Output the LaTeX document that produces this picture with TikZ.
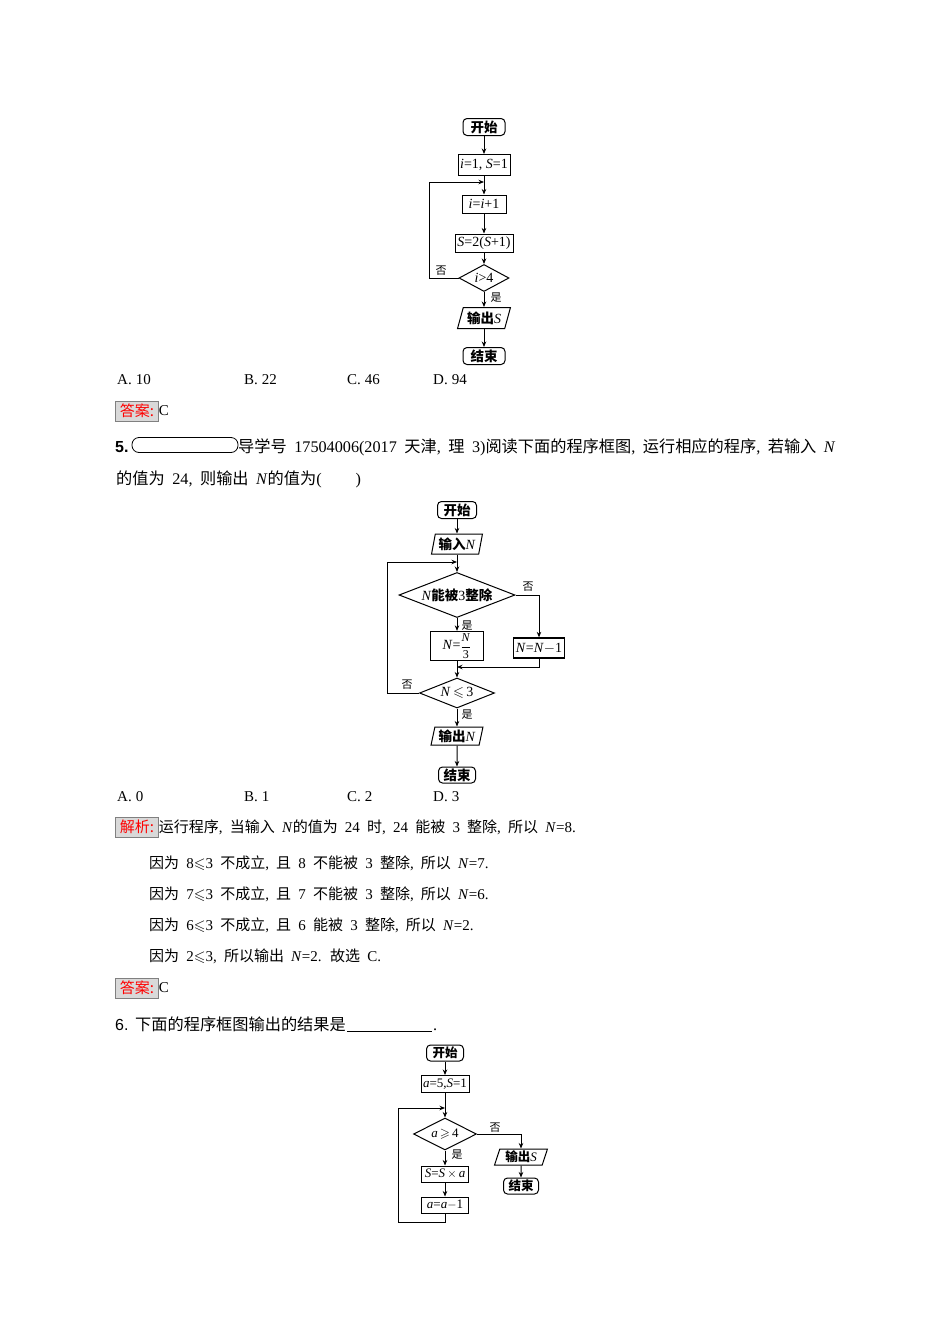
\documentclass[tikz,border=0pt]{standalone}
\usepackage{amsmath,amssymb}
\usepackage{fontspec}
\setmainfont{Liberation Serif}
\newfontfamily\cjk{Noto Sans CJK SC}
\newfontfamily\sfb{Liberation Sans}
\usetikzlibrary{shapes.geometric,arrows.meta}
\newcommand\zh[1]{{\cjk #1}}
\newcommand\zhb[1]{{\cjk\bfseries\fontsize{13.5}{15}\selectfont #1}}
\newcommand\zhc[1]{{\cjk\bfseries\fontsize{12.5}{14}\selectfont #1}}
\newcommand\vN{\textit{N}}
\newcommand\vS{\textit{S}}
\newcommand\bodyfont{\fontsize{15}{18}\selectfont\spaceskip 7.2pt\relax}
\newcommand\optfont{\fontsize{15}{18}\selectfont}
\newcommand\probfont{\fontsize{16.2}{19}\selectfont\spaceskip 7.5pt\relax}
\begin{document}
\begin{tikzpicture}[x=1pt,y=-1pt,
 fc/.style={draw, line width=1pt, inner sep=0pt, align=center, font=\fontsize{14}{16}\selectfont},
 fcs/.style={fc, font=\fontsize{13}{15}\selectfont},
 term/.style={rectangle, rounded corners=4pt},
 proc/.style={rectangle},
 dec/.style={diamond, shape aspect=2.5},
 io/.style 2 args={trapezium, trapezium left angle=#1, trapezium right angle=#2, trapezium stretches=true},
 arr/.style={line width=1pt, -{Stealth[length=5.5pt,width=4.5pt]}},
 lab/.style={font=\cjk\fontsize{11}{12}\selectfont, inner sep=0pt},
 body/.style={anchor=base west, inner sep=0pt, font=\bodyfont},
 opt/.style={anchor=base west, inner sep=0pt, font=\optfont},
 prob/.style={anchor=base west, inner sep=0pt, font=\probfont},
 numb/.style={anchor=base west, inner sep=0pt, font=\sfb\bfseries\fontsize{16}{18}\selectfont},
 tag/.style={draw=gray, fill=gray!30, text=red, inner sep=0pt, minimum width=43, minimum height=20, font=\cjk\fontsize{15}{18}\selectfont},
]
\fill[white] (0,0) rectangle (950,1344);
\useasboundingbox (0,0) rectangle (950,1344);

% ---------------- Flowchart 1 ----------------
\node[fc, term, minimum width=42, minimum height=17] (a1) at (484,127) {\zhb{开始}};
\node[fc, proc, minimum width=52, minimum height=21] (a2) at (484,165) {\textit{i}=1, \vS=1};
\node[fc, proc, minimum width=44, minimum height=18] (a3) at (484,204) {\textit{i}=\textit{i}+1};
\node[fc, proc, minimum width=58, minimum height=18] (a4) at (484,243) {\vS=2(\vS+1)};
\node[fc, dec, minimum width=50, minimum height=27] (a5) at (484,278) {\textit{i}>4};
\node[fc, io={70}{110}, minimum width=53, minimum height=21] (a6) at (484,318) {\zhb{输出}\vS};
\node[fc, term, minimum width=42, minimum height=17] (a7) at (484,356) {\zhb{结束}};
\coordinate (aj) at (484,182);
\coordinate (al) at (429,182);
\draw[arr] (a1) -- (a2);
\draw[arr] (a2) -- (a3);
\draw[arr] (a3) -- (a4);
\draw[arr] (a4) -- (a5);
\draw[arr] (a5) -- (a6);
\draw[arr] (a6) -- (a7);
\draw[arr] (a5.west) -| (al) -- (aj);
\node[lab] at (441,271) {否};
\node[lab] at (496,298) {是};

% answers row 1
\node[opt] at (117,384) {A.\hspace{4pt}10};
\node[opt] at (244,384) {B.\hspace{4pt}22};
\node[opt] at (347,384) {C.\hspace{4pt}46};
\node[opt] at (433,384) {D.\hspace{4pt}94};
\node[tag] (t1) at (137,411) {答案:};
\node[body, anchor=west] at (t1.east) {C};

% problem 5
\node[numb] at (115,452) {5.};
\node[draw, line width=0.8pt, rounded corners=7pt, minimum width=106, minimum height=15, inner sep=0pt] (blank) at (185,445) {};
\node[prob] at (238,452) {\zh{导学号} 17504006(2017 \zh{天津}, \zh{理} 3)\zh{阅读下面的程序框图}, \zh{运行相应的程序}, \zh{若输入} \vN};
\node[prob] at (116,484) {\zh{的值为} 24, \zh{则输出} \vN\zh{的值为}(\hspace{34pt})};

% ---------------- Flowchart 2 ----------------
\node[fc, term, minimum width=39, minimum height=17] (b1) at (457,510) {\zhb{开始}};
\node[fc, io={76}{104}, minimum width=51, minimum height=20] (b2) at (457,544) {\zhb{输入}\vN};
\node[fc, dec, minimum width=116, minimum height=45] (b3) at (457,595) {\vN\zhb{能被}3\zhb{整除}};
\node[fc, proc, line width=1.3pt, minimum width=53, minimum height=29] (b4) at (457,646) {\vN={\fontsize{12}{13}\selectfont$\dfrac{\text{\textit{N}}}{\text{3}}$}};
\node[fc, proc, line width=1.3pt, minimum width=51, minimum height=20] (b5) at (539,648) {\vN=\vN$-$1};
\node[fc, dec, minimum width=75, minimum height=30] (b6) at (457,693) {\vN\,$\leqslant$\,3};
\node[fc, io={76}{104}, minimum width=52, minimum height=18] (b7) at (457,736) {\zhb{输出}\vN};
\node[fc, term, minimum width=37, minimum height=16] (b8) at (457,775) {\zhb{结束}};
\coordinate (bj) at (457,562);
\coordinate (bl) at (387,562);
\coordinate (bm) at (457,667);
\draw[arr] (b1) -- (b2);
\draw[arr] (b2) -- (b3);
\draw[arr] (b3) -- (b4);
\draw[arr] (b3.east) -| (b5.north);
\draw[arr] (b5.south) |- (bm);
\draw[arr] (b4) -- (b6);
\draw[arr] (b6.west) -| (bl) -- (bj);
\draw[arr] (b6) -- (b7);
\draw[arr] (b7) -- (b8);
\node[lab] at (528,587) {否};
\node[lab] at (467,626) {是};
\node[lab] at (407,685) {否};
\node[lab] at (467,715) {是};

% answers row 2
\node[opt] at (117,801) {A.\hspace{4pt}0};
\node[opt] at (244,801) {B.\hspace{4pt}1};
\node[opt] at (347,801) {C.\hspace{4pt}2};
\node[opt] at (433,801) {D.\hspace{4pt}3};
\node[tag] (t2) at (137,827) {解析:};
\node[body, anchor=west] at (t2.east) {\zh{运行程序}, \zh{当输入} \vN\zh{的值为} 24 \zh{时}, 24 \zh{能被} 3 \zh{整除}, \zh{所以} \vN=8.};
\node[body] at (149,868) {\zh{因为} 8$\leqslant$3 \zh{不成立}, \zh{且} 8 \zh{不能被} 3 \zh{整除}, \zh{所以} \vN=7.};
\node[body] at (149,899) {\zh{因为} 7$\leqslant$3 \zh{不成立}, \zh{且} 7 \zh{不能被} 3 \zh{整除}, \zh{所以} \vN=6.};
\node[body] at (149,930) {\zh{因为} 6$\leqslant$3 \zh{不成立}, \zh{且} 6 \zh{能被} 3 \zh{整除}, \zh{所以} \vN=2.};
\node[body] at (149,961) {\zh{因为} 2$\leqslant$3, \zh{所以输出} \vN=2. \zh{故选} C.};
\node[tag] (t3) at (137,988) {答案:};
\node[body, anchor=west] at (t3.east) {C};

% problem 6
\node[anchor=base west, inner sep=0pt, font=\sfb\fontsize{16}{18}\selectfont] at (115,1030) {6.};
\node[prob] (q6) at (135,1030) {\zh{下面的程序框图输出的结果是}};
\coordinate (u1) at (347,1031);
\coordinate (u2) at (432,1031);
\draw[line width=0.8pt] (u1) -- (u2);
\node[prob] at (433,1030) {.};

% ---------------- Flowchart 3 ----------------
\node[fcs, term, minimum width=37, minimum height=16] (c1) at (445,1053) {\zhc{开始}};
\node[fcs, proc, minimum width=48, minimum height=17] (c2) at (445,1084) {\textit{a}=5,\vS=1};
\node[fcs, dec, minimum width=63, minimum height=32] (c3) at (445,1134) {\textit{a}\,$\geqslant$\,4};
\node[fcs, proc, minimum width=47, minimum height=16] (c4) at (445,1174) {\vS=\vS\,$\times$\,\textit{a}};
\node[fcs, proc, minimum width=47, minimum height=16] (c5) at (445,1205) {\textit{a}=\textit{a}$-$1};
\node[fcs, io={72}{108}, minimum width=53, minimum height=16] (c6) at (521,1157) {\zhc{输出}\vS};
\node[fcs, term, minimum width=35, minimum height=16] (c7) at (521,1186) {\zhc{结束}};
\coordinate (cj) at (445,1108);
\coordinate (cl) at (398,1108);
\coordinate (cb) at (445,1222);
\draw[arr] (c1) -- (c2);
\draw[arr] (c2) -- (c3);
\draw[arr] (c3) -- (c4);
\draw[arr] (c4) -- (c5);
\draw[arr] (c5.south) -- (cb) -| (cl) -- (cj);
\draw[arr] (c3.east) -| (c6.north);
\draw[arr] (c6) -- (c7);
\node[lab] at (495,1128) {否};
\node[lab] at (457,1155) {是};
\end{tikzpicture}
\end{document}
